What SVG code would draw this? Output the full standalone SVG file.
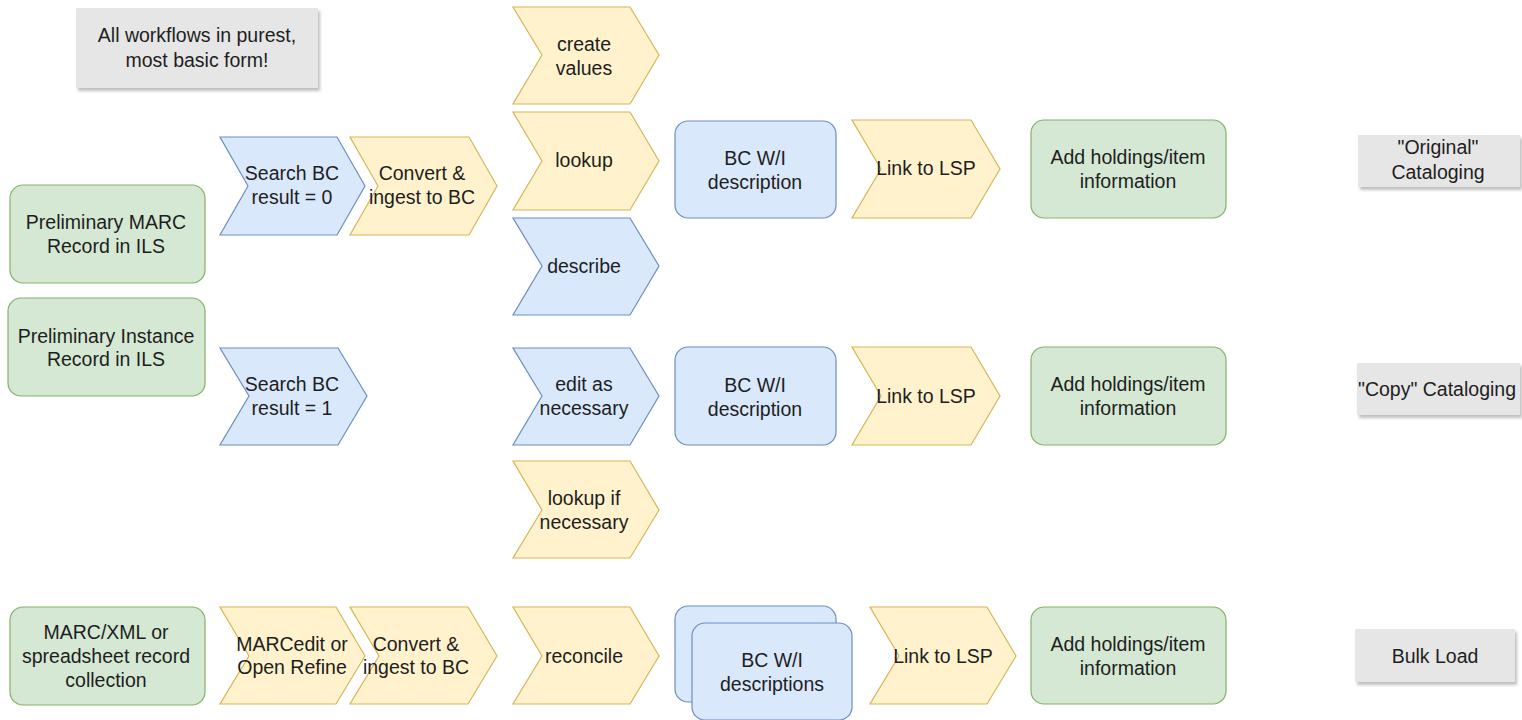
<svg xmlns="http://www.w3.org/2000/svg" width="1522" height="720" viewBox="0 0 1522 720">
<defs>
<style>
.g{fill:#d5e8d4;stroke:#82b366;stroke-width:1.2}
.b{fill:#dae8fc;stroke:#6c8ebf;stroke-width:1.2}
.y{fill:#fff2cc;stroke:#d6b656;stroke-width:1.2}
.n{fill:#e6e6e6;stroke:none}
text{font-family:"Liberation Sans",Arial,sans-serif;font-size:19.5px;fill:#1e1e1e;text-anchor:middle;dominant-baseline:central}
</style>
<filter id="sh" x="-10%" y="-10%" width="130%" height="140%">
<feDropShadow dx="2" dy="3" stdDeviation="1.5" flood-color="#000" flood-opacity="0.25"/>
</filter>
</defs>
<rect width="1522" height="720" fill="#ffffff"/>
<g id="connectors"/>

<g id="note"><rect class="n" x="76" y="8" width="242" height="80" filter="url(#sh)"/><text x="197" y="35">All workflows in purest,</text><text x="197" y="60">most basic form!</text></g>

<g id="prelim-marc"><rect class="g" x="10" y="185" width="195" height="98" rx="13"/><text x="106" y="222">Preliminary MARC</text><text x="106" y="246">Record in ILS</text></g>
<g id="prelim-instance"><rect class="g" x="8" y="298" width="197" height="98" rx="13"/><text x="106" y="336">Preliminary Instance</text><text x="106" y="359">Record in ILS</text></g>
<g id="marcxml"><rect class="g" x="10" y="607" width="195" height="98" rx="13"/><text x="106" y="632">MARC/XML or</text><text x="106" y="656">spreadsheet record</text><text x="106" y="680">collection</text></g>

<g id="search0"><path class="b" d="M220,137 L337,137 L365,186 L337,235 L220,235 L248,186 Z"/><text x="292" y="173">Search BC</text><text x="292" y="197">result = 0</text></g>
<g id="convert1"><path class="y" d="M350,137 L469,137 L497,186 L469,235 L350,235 L378,186 Z"/><text x="422" y="173">Convert &amp;</text><text x="422" y="197">ingest to BC</text></g>

<g id="create-values"><path class="y" d="M513,7 L630,7 L659,55 L630,104 L513,104 L542,55 Z"/><text x="584" y="44">create</text><text x="584" y="68">values</text></g>
<g id="lookup"><path class="y" d="M513,112 L630,112 L659,161 L630,210 L513,210 L542,161 Z"/><text x="584" y="160">lookup</text></g>
<g id="describe"><path class="b" d="M513,218 L630,218 L659,266 L630,315 L513,315 L542,266 Z"/><text x="584" y="266">describe</text></g>

<g id="bcwi1"><rect class="b" x="675" y="121" width="161" height="97" rx="13"/><text x="755" y="158">BC W/I</text><text x="755" y="182">description</text></g>
<g id="link1"><path class="y" d="M852,120 L971,120 L1000,169 L971,218 L852,218 L881,169 Z"/><text x="926" y="168">Link to LSP</text></g>
<g id="holdings1"><rect class="g" x="1031" y="120" width="195" height="98" rx="13"/><text x="1128" y="157">Add holdings/item</text><text x="1128" y="181">information</text></g>
<g id="original"><rect class="n" x="1358" y="135" width="162" height="52" filter="url(#sh)"/><text x="1438" y="147">"Original"</text><text x="1438" y="172">Cataloging</text></g>

<g id="search1"><path class="b" d="M220,348 L338,348 L367,396 L338,445 L220,445 L249,396 Z"/><text x="292" y="384">Search BC</text><text x="292" y="408">result = 1</text></g>
<g id="edit"><path class="b" d="M513,348 L630,348 L659,396 L630,445 L513,445 L542,396 Z"/><text x="584" y="384">edit as</text><text x="584" y="408">necessary</text></g>
<g id="lookup-if"><path class="y" d="M513,461 L630,461 L659,510 L630,558 L513,558 L542,510 Z"/><text x="584" y="498">lookup if</text><text x="584" y="522">necessary</text></g>
<g id="bcwi2"><rect class="b" x="675" y="347" width="161" height="98" rx="13"/><text x="755" y="385">BC W/I</text><text x="755" y="409">description</text></g>
<g id="link2"><path class="y" d="M852,347 L971,347 L1000,396 L971,445 L852,445 L881,396 Z"/><text x="926" y="396">Link to LSP</text></g>
<g id="holdings2"><rect class="g" x="1031" y="347" width="195" height="98" rx="13"/><text x="1128" y="384">Add holdings/item</text><text x="1128" y="408">information</text></g>
<g id="copy"><rect class="n" x="1357" y="363" width="163" height="52" filter="url(#sh)"/><text x="1437" y="389">"Copy" Cataloging</text></g>

<g id="marcedit"><path class="y" d="M220,607 L336,607 L365,656 L336,704 L220,704 L249,656 Z"/><text x="292" y="644">MARCedit or</text><text x="292" y="667">Open Refine</text></g>
<g id="convert2"><path class="y" d="M350,607 L468,607 L497,656 L468,704 L350,704 L379,656 Z"/><text x="416" y="644">Convert &amp;</text><text x="416" y="667">ingest to BC</text></g>
<g id="reconcile"><path class="y" d="M513,607 L630,607 L659,656 L630,704 L513,704 L542,656 Z"/><text x="584" y="656">reconcile</text></g>
<g id="bcwi3"><rect class="b" x="675" y="606" width="161" height="96" rx="13"/><rect class="b" x="692" y="623" width="160" height="97" rx="13"/><text x="772" y="660">BC W/I</text><text x="772" y="684">descriptions</text></g>
<g id="link3"><path class="y" d="M870,607 L987,607 L1016,656 L987,704 L870,704 L899,656 Z"/><text x="943" y="656">Link to LSP</text></g>
<g id="holdings3"><rect class="g" x="1031" y="607" width="195" height="97" rx="13"/><text x="1128" y="644">Add holdings/item</text><text x="1128" y="668">information</text></g>
<g id="bulk"><rect class="n" x="1355" y="629" width="160" height="53" filter="url(#sh)"/><text x="1435" y="656">Bulk Load</text></g>
</svg>
